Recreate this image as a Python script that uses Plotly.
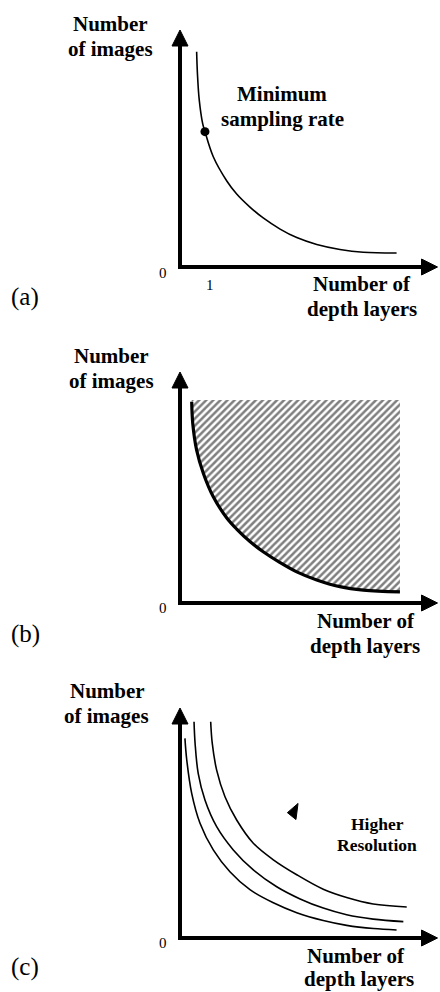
import plotly.graph_objects as go

# ---------------- data ----------------
# Panel (a): minimum sampling curve
curve_a_x = [0.64, 0.67, 0.74, 0.87, 0.96, 1.28, 1.80, 2.18, 2.69, 3.20, 3.85, 4.49, 5.26, 6.15, 7.05, 8.33]
curve_a_y = [9.08, 8.17, 7.05, 6.06, 5.71, 4.65, 3.63, 3.08, 2.53, 2.07, 1.60, 1.24, 0.95, 0.74, 0.62, 0.59]
min_rate_x = [0.96]
min_rate_y = [5.71]

# Panel (b): curve bounding the hatched (feasible) region
curve_b_x = [0.45, 0.49, 0.64, 0.90, 1.28, 1.80, 2.18, 2.69, 3.20, 3.85, 4.49, 5.26, 6.15, 7.05, 8.46]
curve_b_y = [8.71, 7.78, 6.62, 5.61, 4.60, 3.68, 3.20, 2.66, 2.22, 1.75, 1.35, 1.00, 0.71, 0.56, 0.48]
hatch_top_y = 8.79

# Panel (c): three curves for increasing resolution
curve_c1_x = [0.19, 0.26, 0.45, 0.77, 1.28, 1.92, 2.69, 3.59, 4.49, 5.51, 6.41, 7.44, 8.33]
curve_c1_y = [8.68, 7.74, 6.29, 4.99, 3.83, 2.88, 2.10, 1.53, 1.10, 0.76, 0.55, 0.41, 0.35]
curve_c2_x = [0.54, 0.58, 0.70, 0.96, 1.41, 2.05, 2.82, 3.72, 4.62, 5.51, 6.41, 7.43, 8.59]
curve_c2_y = [9.40, 8.47, 7.16, 6.00, 4.84, 3.83, 2.96, 2.23, 1.70, 1.30, 1.01, 0.82, 0.71]
curve_c3_x = [1.18, 1.24, 1.41, 1.73, 2.18, 2.82, 3.59, 4.49, 5.51, 6.41, 7.43, 8.72]
curve_c3_y = [9.40, 8.47, 7.30, 6.14, 5.13, 4.12, 3.40, 2.75, 2.12, 1.76, 1.48, 1.35]

tick_vals_a = [0, 1]
tick_labels_a = ["0", "1"]
tick_labels_b = ["0"]
tick_labels_c = ["0"]

panel_labels = ["(a)", "(b)", "(c)"]
y_title = ["Number", "of images"]
x_title = ["Number of", "depth layers"]
note_a = ["Minimum", "sampling rate"]
note_c = ["Higher", "Resolution"]

# ---------------- layout helpers ----------------
W, H = 440, 992
X_RANGE = [-1, 10]
Y_RANGE = [-1, 10.5]
X0_PX = 180.0
PX_PER_X = 26.0
# (pixel of y=0, pixel of y=10) for each panel
panels_px = [(267.0, 30.0), (603.0, 372.0), (938.0, 708.0)]


def ydomain(p):
    y0, y10 = p
    per = (y0 - y10) / 10.0
    bot = y0 + per * (-Y_RANGE[0])
    top = y0 - per * Y_RANGE[1]
    return [1 - bot / H, 1 - top / H]


xdom = [(X0_PX + PX_PER_X * X_RANGE[0]) / W, (X0_PX + PX_PER_X * X_RANGE[1]) / W]


def px(x):
    return x / W


def py(y):
    return 1 - y / H


fig = go.Figure()

BLACK = "#000000"
SERIF = "Liberation Serif"
SPL = dict(shape="spline", smoothing=1.0)

# panel (a)
fig.add_trace(go.Scatter(x=curve_a_x, y=curve_a_y, mode="lines",
                         line=dict(color=BLACK, width=1.6, **SPL),
                         xaxis="x", yaxis="y", hoverinfo="skip"))
fig.add_trace(go.Scatter(x=min_rate_x, y=min_rate_y, mode="markers", marker=dict(color=BLACK, size=9),
                         xaxis="x", yaxis="y", hoverinfo="skip"))

# panel (b) hatched region
hx = curve_b_x + [curve_b_x[-1], curve_b_x[0]]
hy = curve_b_y + [hatch_top_y, hatch_top_y]
fig.add_trace(go.Scatter(x=hx, y=hy, mode="lines", fill="toself", line=dict(width=0, color="rgba(0,0,0,0)"),
                         fillcolor="white",
                         fillpattern=dict(shape="/", size=5, solidity=0.5, fgcolor="#000000", bgcolor="white"),
                         xaxis="x2", yaxis="y2", hoverinfo="skip"))
fig.add_trace(go.Scatter(x=curve_b_x, y=curve_b_y, mode="lines",
                         line=dict(color=BLACK, width=3.2, **SPL),
                         xaxis="x2", yaxis="y2", hoverinfo="skip"))

# panel (c)
for cx, cy in [(curve_c1_x, curve_c1_y), (curve_c2_x, curve_c2_y), (curve_c3_x, curve_c3_y)]:
    fig.add_trace(go.Scatter(x=cx, y=cy, mode="lines",
                             line=dict(color=BLACK, width=1.6, **SPL),
                             xaxis="x3", yaxis="y3", hoverinfo="skip"))

shapes = []
for i, p in enumerate(panels_px):
    sfx = "" if i == 0 else str(i + 1)
    xr, yr = "x" + sfx, "y" + sfx
    per_y = (p[0] - p[1]) / 10.0
    hw_y = 8.0 / per_y       # half-width of horizontal arrow head in y units
    hw_x = 8.0 / PX_PER_X    # half-width of vertical arrow head in x units
    tip_x = (437.5 - X0_PX) / PX_PER_X
    base_x = tip_x - 16.0 / PX_PER_X
    tip_y = 10.0
    base_y = tip_y - 16.0 / per_y
    # axis lines
    shapes.append(dict(type="line", xref=xr, yref=yr, x0=0, x1=0, y0=-2.0 / per_y, y1=base_y + 0.05,
                       line=dict(color=BLACK, width=4)))
    shapes.append(dict(type="line", xref=xr, yref=yr, x0=-2.0 / PX_PER_X, x1=base_x + 0.05, y0=0, y1=0,
                       line=dict(color=BLACK, width=4)))
    # arrow heads
    shapes.append(dict(type="path", xref=xr, yref=yr,
                       path=f"M {-hw_x} {base_y} L 0 {tip_y} L {hw_x} {base_y} Z",
                       fillcolor=BLACK, line=dict(color=BLACK, width=1)))
    shapes.append(dict(type="path", xref=xr, yref=yr,
                       path=f"M {base_x} {-hw_y} L {tip_x} 0 L {base_x} {hw_y} Z",
                       fillcolor=BLACK, line=dict(color=BLACK, width=1)))

# small arrow head in panel (c)
shapes.append(dict(type="path", xref="x3", yref="y3",
                   path="M 4.13 5.45 L 4.54 5.85 L 4.46 5.15 Z",
                   fillcolor=BLACK, line=dict(color=BLACK, width=1)))

ann = []


def text(t, x, y, size=21, bold=True, **kw):
    s = f"<b>{t}</b>" if bold else t
    d = dict(text=s, x=px(x), y=py(y), xref="paper", yref="paper", showarrow=False,
             xanchor="center", yanchor="middle", font=dict(family=SERIF, size=size, color=BLACK))
    d.update(kw)
    ann.append(d)


def lines(ts, xs, ys, size=21):
    for t, x, y in zip(ts, xs, ys):
        text(t, x, y, size=size)


# panel (a)
lines(y_title, [110, 110], [24, 49])
lines(note_a, [282, 282], [94, 119])
lines(x_title, [362, 362], [284, 309])
text(tick_labels_a[0], 163, 273, size=15, bold=False)
ann.append(dict(text=tick_labels_a[1], x=tick_vals_a[1] + 0.15, xref="x", y=py(285), yref="paper", showarrow=False,
                xanchor="center", yanchor="middle", font=dict(family=SERIF, size=15, color=BLACK)))
text(panel_labels[0], 25, 297, size=25, bold=False)

# panel (b)
lines(y_title, [112, 112], [356, 381])
text(tick_labels_b[0], 163, 608, size=15, bold=False)
lines(x_title, [366, 365], [621, 646])
text(panel_labels[1], 25, 634, size=25, bold=False)

# panel (c)
lines(y_title, [107, 106], [691, 716])
text(tick_labels_c[0], 163, 943, size=15, bold=False)
lines(x_title, [356, 359], [956, 979])
text(panel_labels[2], 25, 967, size=25, bold=False)
lines(note_c, [377, 377], [824, 845], size=17.5)

axis_common = dict(visible=False, fixedrange=True)
layout = dict(
    width=W, height=H, margin=dict(l=0, r=0, t=0, b=0),
    paper_bgcolor="white", plot_bgcolor="white", showlegend=False,
    shapes=shapes, annotations=ann,
)
for i, p in enumerate(panels_px):
    sfx = "" if i == 0 else str(i + 1)
    layout["xaxis" + sfx] = dict(domain=xdom, range=X_RANGE, anchor="y" + sfx, **axis_common)
    layout["yaxis" + sfx] = dict(domain=ydomain(p), range=Y_RANGE, anchor="x" + sfx, **axis_common)

fig.update_layout(**layout)
fig.write_html("out.html", config={"displayModeBar": False},
               post_script="document.body.style.margin='0px';document.body.style.overflow='hidden';")
